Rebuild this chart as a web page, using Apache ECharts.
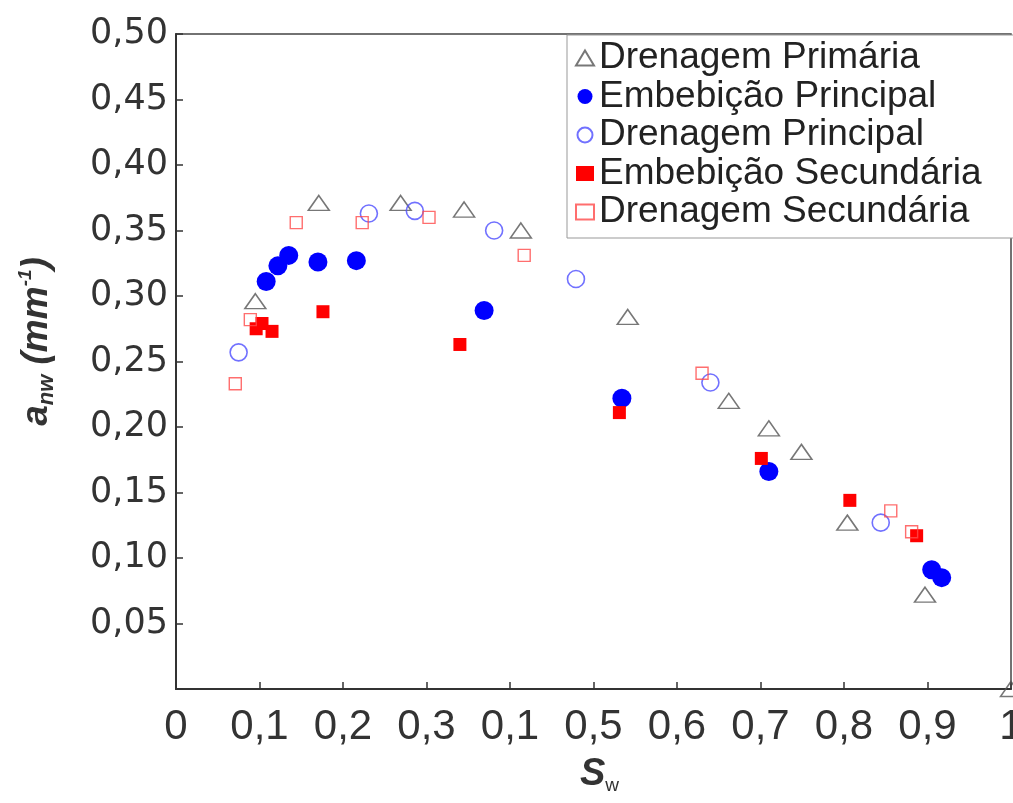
<!DOCTYPE html>
<html>
<head>
<meta charset="utf-8">
<title>a_nw x S_w</title>
<script src="https://cdn.jsdelivr.net/npm/echarts/dist/echarts.min.js"></script>
<style>
  html,body{margin:0;padding:0;background:#fff;}
  #curveImage{width:1013px;height:803px;}
</style>
</head>
<body>
<div id="curveImage"></div>
<script>
  // rótulos dos eixos (como aparecem na figura)
  let xLabels=['0','0,1','0,2','0,3','0,1','0,5','0,6','0,7','0,8','0,9','1'];
  let yLabels=['','0,05','0,10','0,15','0,20','0,25','0,30','0,35','0,40','0,45','0,50'];
  let seriesNames=['Drenagem Primária','Embebição Principal','Drenagem Principal','Embebição Secundária','Drenagem Secundária'];

  // [Sw, anw]
  let drenagemPrimaria=[[0.095,0.296],[0.171,0.371],[0.269,0.371],[0.345,0.366],[0.413,0.350],[0.541,0.284],
    [0.662,0.220],[0.710,0.199],[0.749,0.181],[0.804,0.127],[0.897,0.072],[1.0,0.0]];
  let embebicaoPrincipal=[[0.108,0.311],[0.122,0.323],[0.135,0.331],[0.170,0.326],[0.216,0.327],[0.369,0.289],
    [0.534,0.222],[0.710,0.166],[0.905,0.091],[0.917,0.085]];
  let drenagemPrincipal=[[0.075,0.257],[0.231,0.363],[0.286,0.365],[0.381,0.350],[0.479,0.313],[0.640,0.234],[0.844,0.127]];
  let embebicaoSecundaria=[[0.096,0.275],[0.103,0.279],[0.115,0.273],[0.176,0.288],[0.340,0.263],[0.531,0.211],
    [0.701,0.176],[0.807,0.144],[0.887,0.117]];
  let drenagemSecundaria=[[0.071,0.233],[0.089,0.282],[0.144,0.356],[0.223,0.356],[0.303,0.360],[0.417,0.331],
    [0.630,0.241],[0.856,0.136],[0.881,0.120]];

  let myChart=echarts.init(document.getElementById('curveImage'));
  let axisFont="'Liberation Sans Narrow','Liberation Sans',Arial,sans-serif";
  let nameFont="'Liberation Sans',Arial,sans-serif";

  let option={
    animation:false,
    backgroundColor:'#fff',
    grid:{
      left:176,
      right:2,
      top:34,
      bottom:114,
      outerBoundsMode:'none',
      containLabel:false,
      show:true,
      borderColor:'#444',
      borderWidth:1.5
    },
    legend:{
      orient:'vertical',
      left:567,
      top:35,
      padding:[4,40,7,8],
      itemWidth:18,
      itemHeight:15,
      itemGap:0.5,
      borderColor:'#999',
      borderWidth:1,
      backgroundColor:'#fff',
      textStyle:{
        color:'#222',
        fontSize:37,
        lineHeight:38,
        fontFamily:nameFont
      },
      data:seriesNames
    },
    xAxis:{
      type:'value',
      min:0,
      max:1,
      interval:0.1,
      name:'{s|S}{w|w}',
      nameLocation:'middle',
      nameGap:66,
      nameTextStyle:{
        padding:[0,0,0,12],
        rich:{
          s:{fontSize:38,fontWeight:'bold',fontStyle:'italic',color:'#333',fontFamily:nameFont,lineHeight:40},
          w:{fontSize:19,color:'#333',fontFamily:nameFont,verticalAlign:'bottom',lineHeight:16}
        }
      },
      axisLine:{lineStyle:{color:'#333',width:2}},
      axisTick:{inside:true,length:7,lineStyle:{color:'#333',width:1.5}},
      axisLabel:{
        color:'#333',
        fontSize:42,
        fontFamily:axisFont,
        margin:17,
        formatter:function(v){return xLabels[Math.round(v*10)];}
      },
      splitLine:{show:false}
    },
    yAxis:{
      type:'value',
      min:0,
      max:0.5,
      interval:0.05,
      name:'{a|a}{sub|nw}{a| (mm}{sup|-1}{a|)}',
      nameLocation:'middle',
      nameRotate:90,
      nameGap:118,
      nameTextStyle:{
        padding:[0,0,0,40],
        rich:{
          a:{fontSize:37,fontWeight:'bold',fontStyle:'italic',color:'#333',fontFamily:nameFont,lineHeight:42},
          sub:{fontSize:22,fontWeight:'bold',fontStyle:'italic',color:'#333',fontFamily:nameFont,verticalAlign:'bottom',lineHeight:20},
          sup:{fontSize:19,fontWeight:'bold',fontStyle:'italic',color:'#333',fontFamily:nameFont,verticalAlign:'top',lineHeight:20}
        }
      },
      axisLine:{lineStyle:{color:'#333',width:2}},
      axisTick:{inside:true,length:7,lineStyle:{color:'#333',width:1.5}},
      axisLabel:{
        color:'#333',
        fontSize:35,
        fontFamily:"'DejaVu Sans',sans-serif",
        margin:8,
        formatter:function(v){return yLabels[Math.round(v/0.05)];}
      },
      splitLine:{show:false}
    },
    series:[
      {
        name:seriesNames[0],
        type:'scatter',
        symbol:'triangle',
        symbolSize:[21,15],
        itemStyle:{color:'rgba(255,255,255,0)',borderColor:'#555',borderWidth:1.5},
        data:drenagemPrimaria
      },
      {
        name:seriesNames[1],
        type:'scatter',
        symbol:'circle',
        symbolSize:19,
        itemStyle:{color:'#0000ff',opacity:1},
        data:embebicaoPrincipal
      },
      {
        name:seriesNames[2],
        type:'scatter',
        symbol:'circle',
        symbolSize:17,
        itemStyle:{color:'rgba(255,255,255,0)',borderColor:'#4d4dff',borderWidth:1.6},
        data:drenagemPrincipal
      },
      {
        name:seriesNames[3],
        type:'scatter',
        symbol:'rect',
        symbolSize:13,
        itemStyle:{color:'#ff0000',opacity:1},
        data:embebicaoSecundaria
      },
      {
        name:seriesNames[4],
        type:'scatter',
        symbol:'rect',
        symbolSize:12,
        itemStyle:{color:'rgba(255,255,255,0)',borderColor:'#ff4a4a',borderWidth:1.4},
        data:drenagemSecundaria
      }
    ]
  };
  myChart.setOption(option);
</script>
</body>
</html>
